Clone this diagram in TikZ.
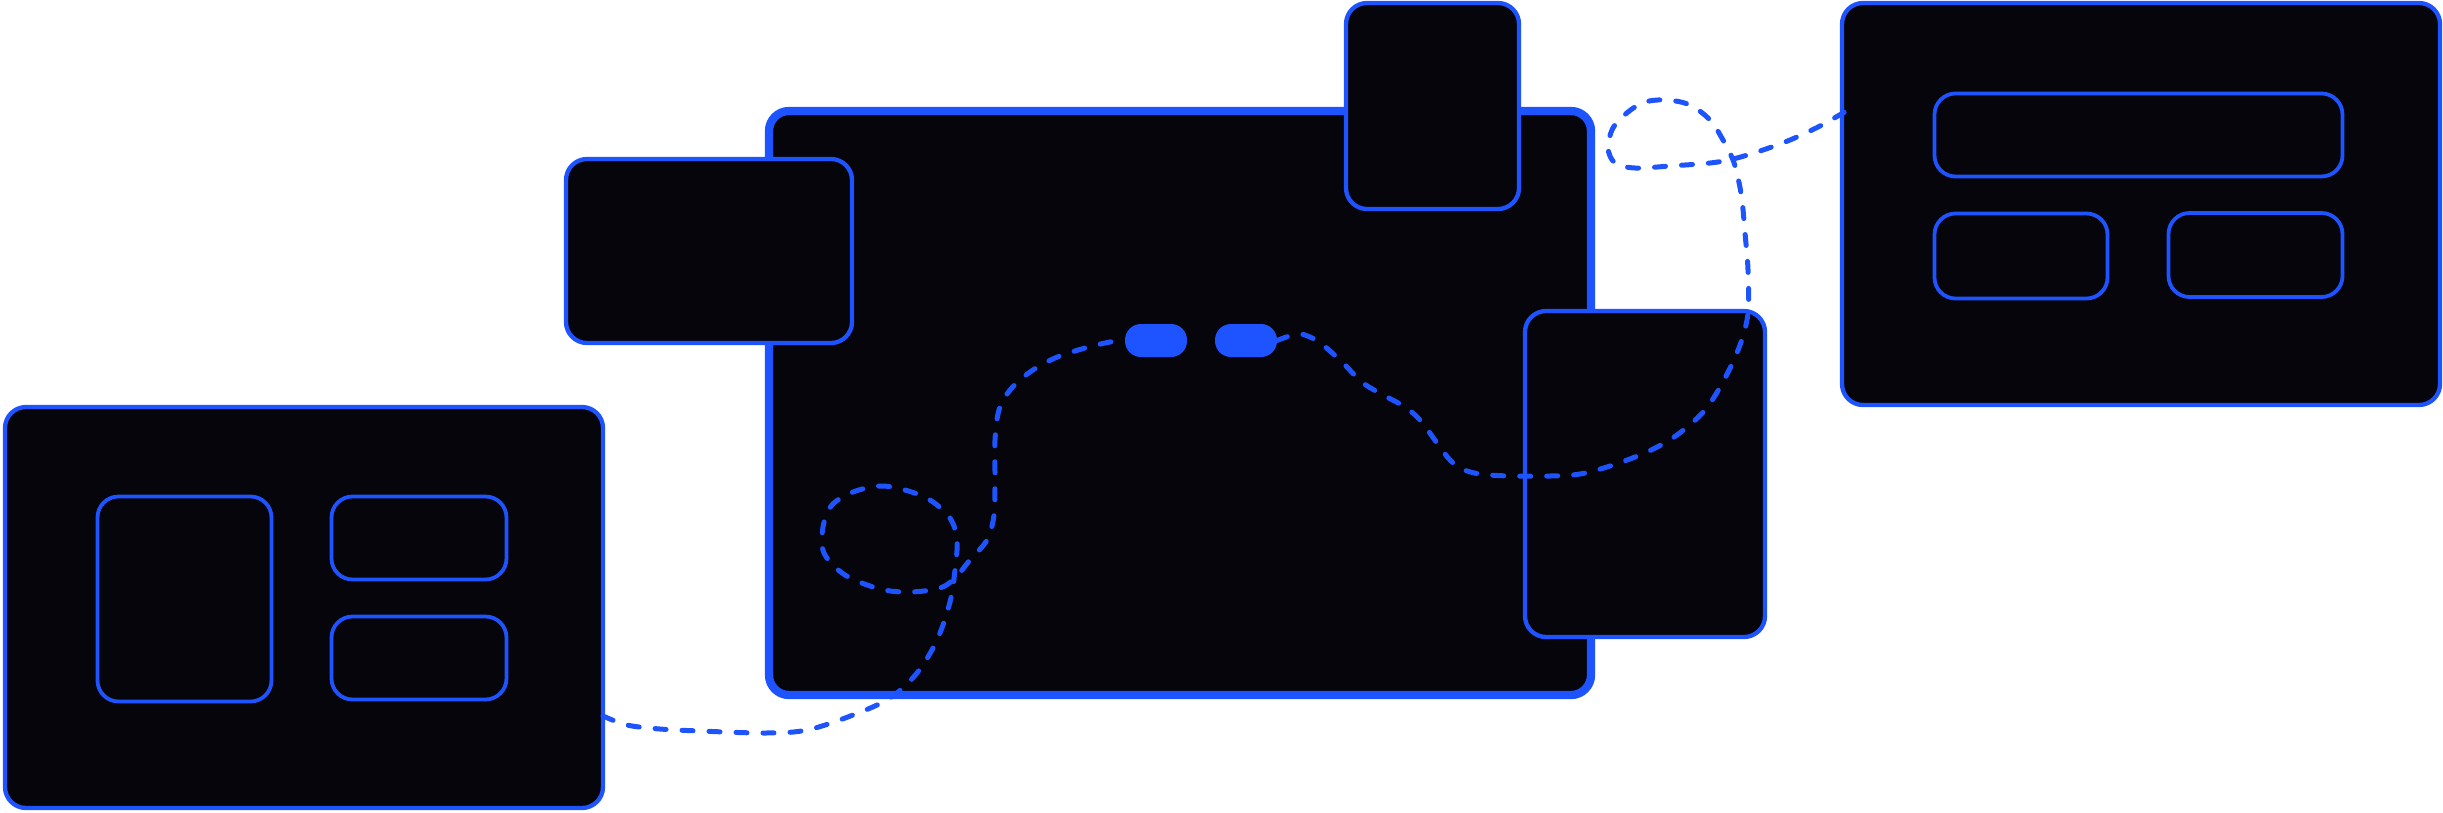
\documentclass[tikz,border=0pt]{standalone}
\usepackage{tikz}
\usetikzlibrary{calc}
\usepackage{xcolor}

\definecolor{linkblue}{HTML}{1E54FF}
\definecolor{carddark}{HTML}{05050B}

\tikzset{
  every card/.style={draw=linkblue, fill=carddark, line width=4.3pt,
    rounded corners=21pt, inner sep=0pt, outer sep=0pt},
  card c/.style={line width=8.3pt, rounded corners=20pt},
  every box/.style={draw=linkblue, line width=3.8pt, rounded corners=21pt,
    inner sep=0pt, outer sep=0pt},
  every pill/.style={fill=linkblue, rounded corners=16pt, inner sep=0pt,
    minimum width=62pt, minimum height=33pt},
  link/.style={draw=linkblue, line width=5pt, line cap=round,
    dash pattern=on 11pt off 16pt},
}

\begin{document}
\begin{tikzpicture}[x=1pt, y=-1pt]
\useasboundingbox (0,0) rectangle (2443,812);

\foreach \m/\x/\y/\w/\h in {c/1180/403/822/584, b/709/251/286/184,
    f/1432.5/106/173/206, e/1645/474/240/326,
    a/304/607.5/598/401, d/2141/204/598/402}
  \node [every card/.try, card \m/.try, minimum width=\w pt, minimum height=\h pt]
    (card-\m) at (\x,\y) {};

\foreach \x/\y/\w/\h [count=\i] in {184.5/599/174/205, 419/538/175/83, 419/658/175/83} % vasen kortti
  \node [every box/.try, minimum width=\w pt, minimum height=\h pt] (box-a\i) at (\x,\y) {};

\foreach \x/\y/\w/\h [count=\i] in {2138.5/135/408/83, 2021/256/173/85, 2255.5/255/174/84} % oikea kortti
  \node [every box/.try, minimum width=\w pt, minimum height=\h pt] (box-d\i) at (\x,\y) {};

\draw [link] plot [smooth, tension=0.55] coordinates {([yshift=-108.5pt]card-a.east)
  (627,725) (660,729) (700,731) (765,733) (807,730) (853,715) (890,698) (917,673)
  (937,640) (950,602) (955,570) (957,540) (950,518) (930,500) (905,490) (880,486)
  (853,492) (832,505) (823,527) (824,553) (845,575) (880,589) (910,592) (940,588)
  (955,578) (970,560) (987,540) (994,515) (995,480) (995,440) (999,410) (1010,390)
  (1030,372) (1055,358) (1085,348) (1110,342) (1125,340.5)};

\draw [link] plot [smooth, tension=0.55] coordinates {(1277,340.5)
  (1297,334) (1310,337) (1323,345) (1343,363) (1363,383) (1387,397) (1405,407)
  (1420,420) (1437,443) (1450,460) (1462,469) (1480,474) (1510,476) (1550,476)
  (1580,474) (1610,466) (1647,452) (1677,435) (1705,410) (1725,378) (1740,345)
  (1748,313) (1748,270) (1745,233) (1742,200) (1738,178) (1733,160) (1723,140)
  (1710,120) (1690,105) (1667,100) (1645,102) (1628,112) (1613,128) (1608,148)
  (1615,163) (1635,168) (1670,166) (1710,163) (1733,159) (1760,151) (1790,140)
  (1820,126) ([xshift=6pt, yshift=94pt]card-d.west)};

\foreach \x [count=\i] in {1156,1246}
  \node [every pill/.try] (pill-\i) at (\x,340.5) {};

\end{tikzpicture}
\end{document}
